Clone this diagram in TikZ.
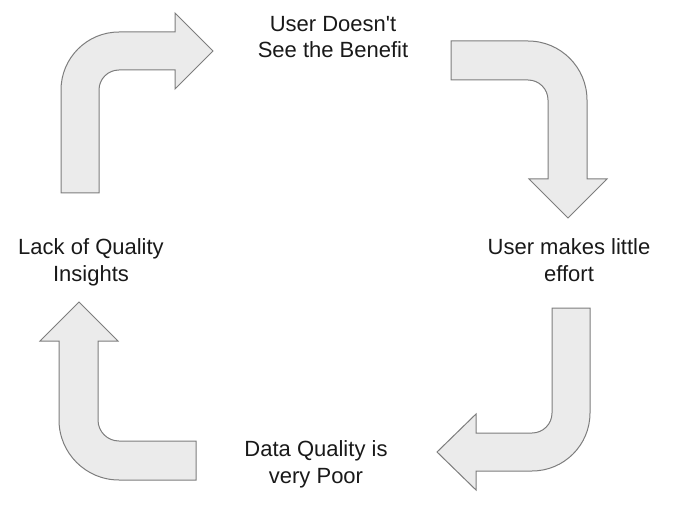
\documentclass[tikz,border=0pt]{standalone}
\usepackage{fontspec}
\setmainfont{Liberation Sans}
\usepackage{tikz}
\usetikzlibrary{positioning}
\definecolor{arrowfill}{RGB}{235,235,235}
\definecolor{arrowline}{RGB}{125,125,125}
\definecolor{stagetext}{RGB}{25,25,25}

\begin{document}
\begin{tikzpicture}[
    x=1pt, y=-1pt,
    stage/.style={align=center, inner sep=0pt, text=stagetext, font=\fontsize{22}{26.5}\selectfont, anchor=base},
    bendarrow/.style={fill=arrowfill, draw=arrowline, line width=1pt, line join=miter}
]
    \useasboundingbox (0,0) rectangle (679,521);

    % Top-left arrow
    \draw[bendarrow] (61,193) -- (61,90) arc[start angle=180, end angle=270, radius=58]
        -- (175,32) -- (175,13) -- (213,51) -- (175,89) -- (175,70) -- (119,70)
        arc[start angle=270, end angle=180, radius=20] -- (99,193) -- cycle;

    % Top-right arrow
    \draw[bendarrow] (451,41) -- (528,41) arc[start angle=270, end angle=360, radius=59]
        -- (587,179) -- (607,179) -- (568,218) -- (529,179) -- (548,179) -- (548,100)
        arc[start angle=0, end angle=-90, radius=20] -- (451,80) -- cycle;

    % Bottom-right arrow
    \draw[bendarrow] (552,308) -- (590,308) -- (590,413) arc[start angle=0, end angle=90, radius=58]
        -- (476,471) -- (476,490) -- (437,452) -- (476,414) -- (476,433) -- (532,433)
        arc[start angle=90, end angle=0, radius=20] -- cycle;

    % Bottom-left arrow
    \draw[bendarrow] (59,341) -- (59,420) arc[start angle=180, end angle=90, radius=60]
        -- (196,480) -- (196,441) -- (119,441) arc[start angle=90, end angle=180, radius=21]
        -- (98,341) -- (118,341) -- (79,302) -- (40,341) -- cycle;

    % Stages (anchored on the baseline of the second line)
    \node[stage] (benefit) at (333,58) {User Doesn\textquotesingle t\\See the Benefit};
    \node[stage] (effort) at (569,281) {User makes little\\effort};
    \node[stage] (quality) at (316,483) {Data Quality is\\very Poor};
    \node[stage] (insights) at (91,281) {Lack of Quality\\Insights};
\end{tikzpicture}
\end{document}
